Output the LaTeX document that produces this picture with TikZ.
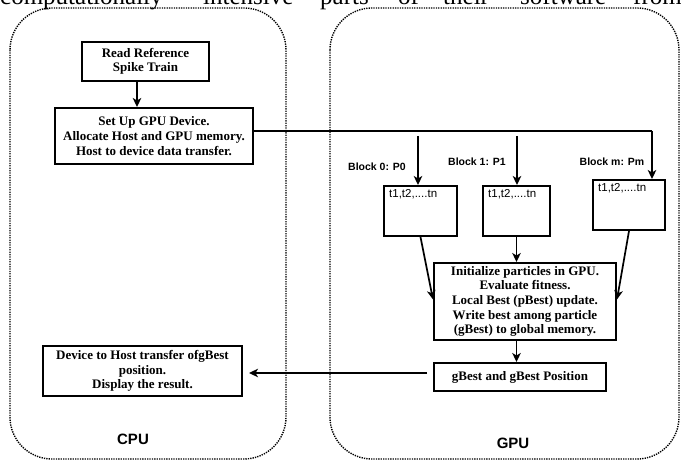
\documentclass[tikz,border=0pt]{standalone}
\usepackage{fontspec}
\setmainfont{Liberation Serif}
\setsansfont{Liberation Sans}
\usetikzlibrary{arrows.meta}

\tikzset{
  region/.style={draw=black, line width=1.4pt, dash pattern=on 1.3pt off 1.1pt, rounded corners=42pt},
  stepbox/.style={draw, line width=2pt, align=center, inner sep=3pt,
    font=\fontsize{13}{14.6}\selectfont\bfseries},
  threadbox/.style={draw, line width=2pt, inner sep=0pt},
  tlist/.style={font=\fontsize{11.5}{12}\sffamily, inner sep=0pt},
  blocklabel/.style={font=\fontsize{10.5}{12}\sffamily\bfseries, inner sep=0pt},
  unitlabel/.style={font=\fontsize{15}{17}\sffamily\bfseries, inner sep=0pt},
  arr/.style={line width=1.7pt, -{Stealth[length=9pt, width=8.5pt, inset=2.5pt]}},
  link/.style={line width=1.7pt},
  pagetext/.style={font=\fontsize{25}{28}\selectfont, anchor=base west, inner sep=0pt}
}

\begin{document}
\begin{tikzpicture}[x=1pt, y=-1pt]
\useasboundingbox (0,0) rectangle (681,462);
\clip (0,0) rectangle (681,462);

% running text of the page above the figure
\node[pagetext] (w1) at (0,5) {computationally};
\node[pagetext] (w2) at (203,5) {intensive};
\node[pagetext] (w3) at (320,5) {parts};
\node[pagetext] (w4) at (398,5) {of};
\node[pagetext] (w5) at (443,5) {their};
\node[pagetext] (w6) at (520,5) {software};
\node[pagetext] (w7) at (633,5) {from};

% host and device regions
\draw[region] (10,8) rectangle (286,459);
\draw[region] (330,8) rectangle (679,459);
\node[unitlabel] (cpu) at (133,439) {CPU};
\node[unitlabel] (gpu) at (513,443) {GPU};

% host side
\node[stepbox, minimum width=127pt, minimum height=39pt] (read) at (145.5,61.5)
  {Read Reference\\Spike Train};
\node[stepbox, minimum width=198pt, minimum height=56pt] (setup) at (154,136)
  {Set Up GPU Device.\\Allocate Host and GPU memory.\\Host to device data transfer.};
\node[stepbox, minimum width=199pt, minimum height=50pt] (result) at (142.5,371)
  {Device to Host transfer ofgBest\\position.\\Display the result.};

% device side: thread blocks
\node[threadbox, minimum width=73pt, minimum height=50pt,
  label={[tlist, anchor=north west, xshift=6pt, yshift=-4pt]north west:t1,t2,....tn}] (b0) at (420.5,211) {};
\node[threadbox, minimum width=67pt, minimum height=50pt,
  label={[tlist, anchor=north west, xshift=6pt, yshift=-4pt]north west:t1,t2,....tn}] (b1) at (516.5,211) {};
\node[threadbox, minimum width=72pt, minimum height=50pt,
  label={[tlist, anchor=north west, xshift=6pt, yshift=-4pt]north west:t1,t2,....tn}] (bm) at (629,205) {};

\node[blocklabel] (l0) at (377,167) {Block 0: P0};
\node[blocklabel] (l1) at (477,162) {Block 1: P1};
\node[blocklabel] (lm) at (612,162) {Block m: Pm};

\node[stepbox, minimum width=182pt, minimum height=77pt] (init) at (525,301.5)
  {Initialize particles in GPU.\\Evaluate fitness.\\Local Best (pBest) update.\\Write best among particle\\(gBest) to global memory.};
\node[stepbox, minimum width=172pt, minimum height=28pt] (gbest) at (520,377)
  {gBest and gBest Position};

% connectors
\coordinate (busend) at (652,131);
\coordinate (tap0) at (418,136);
\coordinate (tap1) at (517,136);

\draw[arr] ([xshift=-8.5pt]read.south) -- ([xshift=-8.5pt]read.south |- setup.north);
\draw[link] ([yshift=5pt]setup.east) -- (busend);
\draw[arr] (busend) -- (busend |- bm.north);
\draw[arr] (tap0) -- (tap0 |- b0.north);
\draw[arr] (tap1) -- (tap1 |- b1.north);

\draw[arr] (b0.south) -- ([yshift=2pt]init.west);
\draw[arr] (b1.south) -- (b1.south |- init.north);
\draw[arr] (bm.south) -- ([yshift=2pt]init.east);
\draw[arr] (b1.south |- init.south) -- (b1.south |- gbest.north);
\draw[arr, shorten <=6pt, shorten >=6pt] ([yshift=4pt]gbest.west) -- ([yshift=4pt]gbest.west -| result.east);
\end{tikzpicture}
\end{document}
